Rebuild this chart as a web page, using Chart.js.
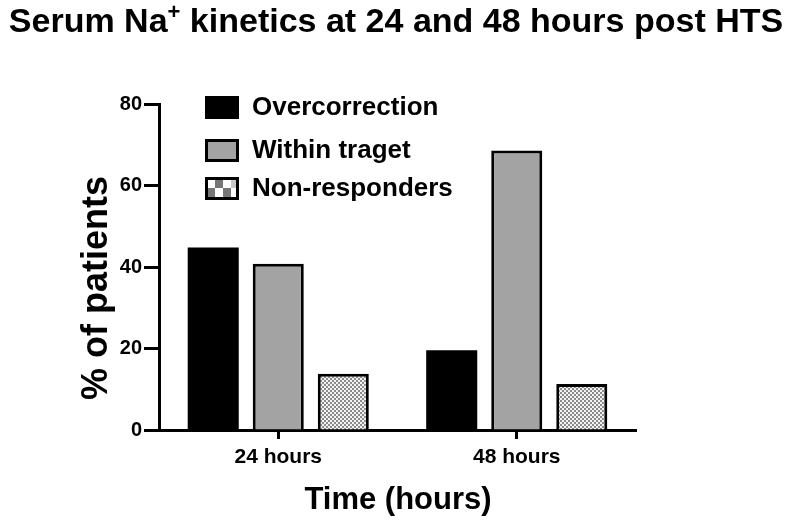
<!DOCTYPE html>
<html>
<head>
<meta charset="utf-8">
<script src="https://cdn.jsdelivr.net/npm/chart.js@4"></script>
<style>
  html, body { margin: 0; padding: 0; background: #fff; }
  #wrap { width: 793px; height: 524px; }
</style>
</head>
<body>
<div id="wrap"><canvas id="naChart"></canvas></div>
<script>
const timepoints = ['24 hours', '48 hours'];
const overcorrection = [44.8, 19.6];
const withinTarget = [40.8, 68.6];
const nonResponders = [13.8, 11.3];
const yTicks = [0, 20, 40, 60, 80];

const FONT = '"Liberation Sans", Arial, sans-serif';

// fine checkerboard for the bars
function checkerPattern(size, dark, light) {
    const c = document.createElement('canvas');
    c.width = size * 2;
    c.height = size * 2;
    const g = c.getContext('2d');
    g.fillStyle = light;
    g.fillRect(0, 0, size * 2, size * 2);
    g.fillStyle = dark;
    g.fillRect(0, 0, size, size);
    g.fillRect(size, size, size, size);
    return g.createPattern(c, 'repeat');
}

const ctx = document.getElementById('naChart').getContext('2d');
const barPattern = checkerPattern(2, '#8c8c8c', '#f2f2f2');

// title, axis titles and the legend drawn by hand so they sit where the figure has them
const figureText = {
    id: 'figureText',
    afterDraw(chart) {
        const c = chart.ctx;
        const area = chart.chartArea;
        c.save();
        c.fillStyle = '#000';

        // title with superscript +
        c.font = 'bold 34px ' + FONT;
        const partA = 'Serum Na';
        const partB = ' kinetics at 24 and 48 hours post HTS';
        const wA = c.measureText(partA).width;
        const wB = c.measureText(partB).width;
        c.font = 'bold 22px ' + FONT;
        const wPlus = c.measureText('+').width;
        let tx = 396 - (wA + wPlus + wB) / 2;
        c.textBaseline = 'alphabetic';
        c.font = 'bold 34px ' + FONT;
        c.fillText(partA, tx, 32);
        tx += wA;
        c.font = 'bold 22px ' + FONT;
        c.fillText('+', tx, 19);
        tx += wPlus;
        c.font = 'bold 34px ' + FONT;
        c.fillText(partB, tx, 32);

        // y axis title
        c.save();
        c.translate(97, 288);
        c.rotate(-Math.PI / 2);
        c.font = 'bold 36px ' + FONT;
        c.textAlign = 'center';
        c.textBaseline = 'middle';
        c.fillText('% of patients', 0, 0);
        c.restore();

        // x axis title
        c.font = 'bold 31px ' + FONT;
        c.textAlign = 'center';
        c.textBaseline = 'middle';
        c.fillText('Time (hours)', 398, 500);

        // legend inside the plot
        const x = area.left + 46;
        const tops = [area.top - 8, area.top + 35, area.top + 73];
        c.textAlign = 'left';
        chart.data.datasets.forEach((ds, i) => {
            const y = tops[i];
            c.fillStyle = '#000';
            c.fillRect(x, y, 34, 23);
            if (i === 1) {
                c.fillStyle = '#a3a3a3';
                c.fillRect(x + 3, y + 3, 28, 17);
            } else if (i === 2) {
                c.fillStyle = '#fff';
                c.fillRect(x + 3, y + 3, 28, 17);
                c.fillStyle = '#777';
                c.fillRect(x + 10, y + 3, 8, 8);
                c.fillRect(x + 18, y + 11, 8, 9);
                c.fillRect(x + 3, y + 11, 7, 9);
                c.fillStyle = '#c8c8c8';
                c.fillRect(x + 26, y + 3, 5, 8);
            }
            c.fillStyle = '#000';
            c.font = 'bold 26px ' + FONT;
            c.textBaseline = 'middle';
            c.fillText(ds.label, x + 47, y + 12);
        });
        c.restore();
    }
};

new Chart(ctx, {
    type: 'bar',
    data: {
        labels: timepoints,
        datasets: [
            {
                label: 'Overcorrection',
                data: overcorrection,
                backgroundColor: '#000',
                borderColor: '#000',
                borderWidth: 0
            },
            {
                label: 'Within traget',
                data: withinTarget,
                backgroundColor: '#a3a3a3',
                borderColor: '#000',
                borderWidth: 3
            },
            {
                label: 'Non-responders',
                data: nonResponders,
                backgroundColor: barPattern,
                borderColor: '#000',
                borderWidth: 3
            }
        ]
    },
    options: {
        responsive: true,
        maintainAspectRatio: false,
        animation: false,
        categoryPercentage: 0.818,
        barPercentage: 0.785,
        layout: {
            padding: { left: 0, right: 157, top: 104, bottom: 0 }
        },
        plugins: {
            legend: { display: false },
            tooltip: { enabled: false },
            title: { display: false }
        },
        scales: {
            x: {
                offset: true,
                grid: {
                    offset: false,
                    drawOnChartArea: false,
                    tickLength: 9,
                    tickWidth: 3,
                    tickColor: '#000'
                },
                border: { display: true, color: '#000', width: 3 },
                ticks: {
                    color: '#000',
                    padding: 6,
                    font: { family: FONT, size: 21, weight: 'bold' }
                },
                afterFit(scale) { scale.height = 94; }
            },
            y: {
                min: 0,
                max: 80,
                afterBuildTicks(scale) {
                    scale.ticks = yTicks.map(v => ({ value: v }));
                },
                grid: {
                    drawOnChartArea: false,
                    tickLength: 15,
                    tickWidth: 3,
                    tickColor: '#000'
                },
                border: { display: true, color: '#000', width: 3 },
                ticks: {
                    color: '#000',
                    padding: 2,
                    font: { family: FONT, size: 20, weight: 'bold' }
                },
                afterFit(scale) { scale.width = 159; }
            }
        }
    },
    plugins: [figureText]
});
</script>
</body>
</html>
